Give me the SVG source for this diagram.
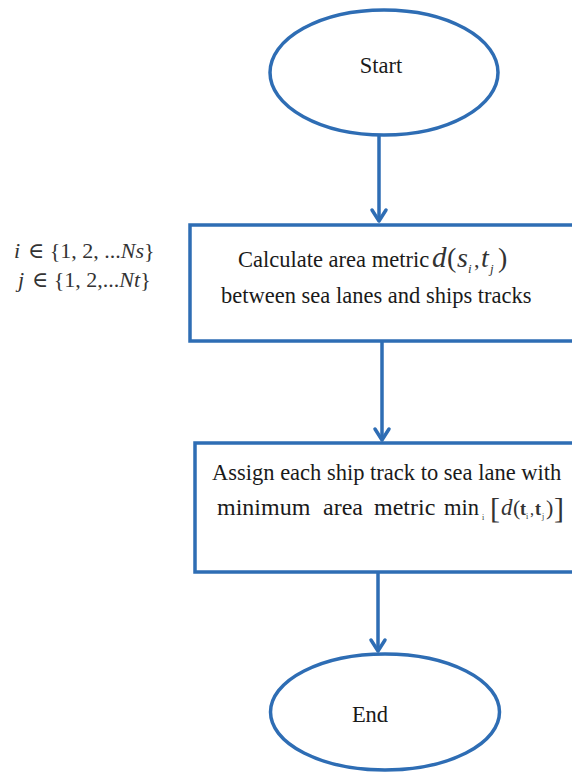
<svg xmlns="http://www.w3.org/2000/svg" width="572" height="772" viewBox="0 0 572 772">
<defs>
<style>
.node{fill:#ffffff;stroke:#2E6DB4;stroke-width:3.5}
.t{font-family:"Liberation Serif","Times New Roman","DejaVu Serif",serif;font-size:22.5px;fill:#1a1a1a}
.mi{font-family:"Liberation Serif","Times New Roman","DejaVu Serif",serif;font-style:italic;fill:#333333}
.mu{font-family:"Liberation Serif","Times New Roman","DejaVu Serif",serif;fill:#333333}
.edge{stroke:#2E6DB4;stroke-width:3.5;fill:none;marker-end:url(#arr)}
</style>
<marker id="arr" markerUnits="userSpaceOnUse" viewBox="-14 -10 16 20" refX="0" refY="0" markerWidth="16" markerHeight="20" orient="auto" overflow="visible">
<path d="M-11,-7 L0,0 L-11,7" fill="none" stroke="#2E6DB4" stroke-width="3.5" stroke-linecap="round" stroke-linejoin="round"/>
</marker>
</defs>
<rect width="572" height="772" fill="#ffffff"/>

<g id="connectors">
<line class="edge" x1="379" y1="135" x2="379" y2="221"/>
<line class="edge" x1="382" y1="342" x2="382" y2="440"/>
<line class="edge" x1="378" y1="573" x2="378" y2="651"/>
</g>

<g id="ranges">
<text class="mi" x="14" y="258" font-size="22">i</text>
<text class="mu" x="28" y="258" font-size="22">∈ {1, 2, ...<tspan font-style="italic">Ns</tspan>}</text>
<text class="mi" x="18" y="287" font-size="22">j</text>
<text class="mu" x="32" y="287" font-size="22">∈ {1, 2,...<tspan font-style="italic">Nt</tspan>}</text>
</g>

<g id="start">
<ellipse class="node" cx="384" cy="72.5" rx="114" ry="62.5"/>
<text class="t" x="381" y="73" text-anchor="middle">Start</text>
</g>

<g id="calc">
<rect class="node" x="190" y="225" width="400" height="116"/>
<text class="t" x="238" y="267">Calculate area metric</text>
<text class="mi" x="432" y="267" font-size="29">d</text>
<text class="mu" x="447" y="267" font-size="28">(</text>
<text class="mi" x="457" y="267" font-size="28">s</text>
<text class="mi" x="468" y="273" font-size="13">i</text>
<text class="mu" x="474" y="267" font-size="22">,</text>
<text class="mi" x="481" y="267" font-size="28">t</text>
<text class="mi" x="490" y="273" font-size="13">j</text>
<text class="mu" x="498" y="267" font-size="28">)</text>
<text class="t" x="221" y="303">between sea lanes and ships tracks</text>
</g>

<g id="assign">
<rect class="node" x="195" y="443" width="400" height="129"/>
<text class="t" x="212" y="480">Assign each ship track to sea lane with</text>
<text class="t" x="217" y="515" style="font-size:24px">minimum</text>
<text class="t" x="323" y="515" style="font-size:24px">area</text>
<text class="t" x="374" y="515" style="font-size:24px">metric</text>
<text class="t" x="444" y="515">min</text>
<text class="mu" x="482" y="520" font-size="8">i</text>
<text class="mu" x="490" y="518" font-size="30">[</text>
<text class="mi" x="501" y="515" font-size="23">d</text>
<text class="mu" x="513" y="515" font-size="22">(</text>
<text class="mu" x="520" y="515" font-size="18" font-weight="bold">t</text>
<text class="mu" x="526" y="519" font-size="8">i</text>
<text class="mu" x="530" y="515" font-size="16">,</text>
<text class="mu" x="535" y="515" font-size="18" font-weight="bold">t</text>
<text class="mu" x="542" y="519" font-size="8">j</text>
<text class="mu" x="546" y="515" font-size="22">)</text>
<text class="mu" x="554" y="518" font-size="30">]</text>
</g>

<g id="end">
<ellipse class="node" cx="385" cy="712" rx="114.5" ry="58"/>
<text class="t" x="370" y="722" text-anchor="middle">End</text>
</g>
</svg>
